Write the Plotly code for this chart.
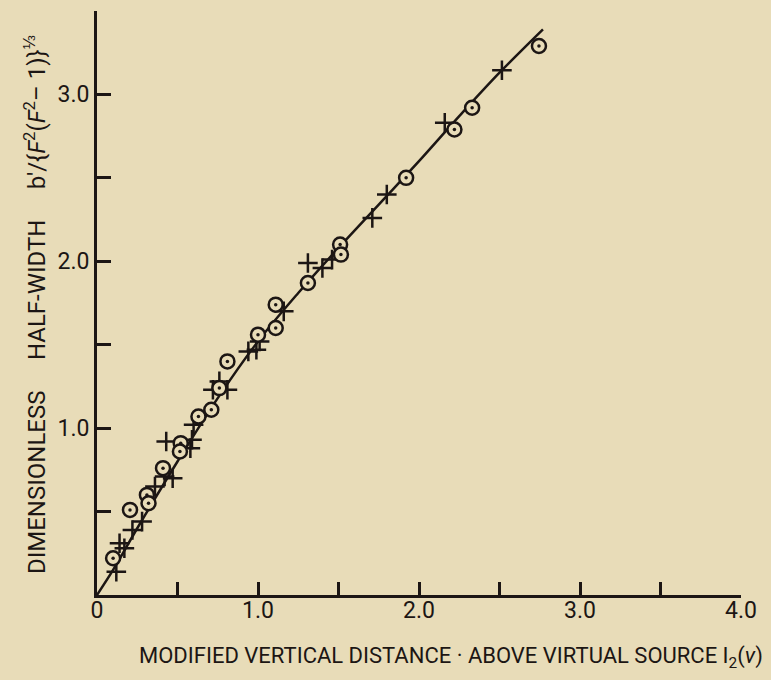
import plotly.graph_objects as go

# Fitted curve
curve_x = [0.0, 0.1, 0.25, 0.5, 0.75, 1.0, 1.25, 1.5, 1.75, 2.0, 2.25, 2.5, 2.77]
curve_y = [0.0, 0.15, 0.40, 0.80, 1.18, 1.52, 1.81, 2.08, 2.34, 2.60, 2.87, 3.13, 3.39]

# Circle-dot data points
circ_x = [0.10, 0.205, 0.31, 0.32, 0.41, 0.52, 0.515, 0.63, 0.71, 0.76, 0.81, 1.00, 1.11, 1.11, 1.31, 1.51, 1.515, 1.92, 2.22, 2.33, 2.745]
circ_y = [0.22, 0.51, 0.60, 0.55, 0.76, 0.91, 0.86, 1.07, 1.11, 1.24, 1.40, 1.56, 1.60, 1.74, 1.87, 2.10, 2.04, 2.50, 2.79, 2.92, 3.29]

# Cross data points
cross_x = [0.12, 0.14, 0.17, 0.22, 0.28, 0.36, 0.42, 0.47, 0.43, 0.58, 0.59, 0.60, 0.72, 0.76, 0.81, 0.94, 0.99, 1.01, 1.16, 1.31, 1.40, 1.46, 1.71, 1.80, 2.16, 2.515]
cross_y = [0.14, 0.31, 0.28, 0.39, 0.44, 0.65, 0.71, 0.70, 0.92, 0.88, 0.93, 1.02, 1.23, 1.28, 1.23, 1.46, 1.47, 1.52, 1.70, 1.99, 1.96, 2.01, 2.26, 2.40, 2.83, 3.145]

x_tickvals = [0, 0.5, 1.0, 1.5, 2.0, 2.5, 3.0, 3.5, 4.0]
x_ticktext = ["0", "", "1.0", "", "2.0", "", "3.0", "", "4.0"]
y_tickvals = [0.5, 1.0, 1.5, 2.0, 2.5, 3.0, 3.5]
y_ticktext = ["", "1.0", "", "2.0", "", "3.0", ""]

BG = "#e8dcb8"
INK = "#1c1614"
FONT = "Roboto, sans-serif"

fig = go.Figure()
fig.add_trace(go.Scatter(x=curve_x, y=curve_y, mode="lines",
                         line=dict(color=INK, width=2.5, shape="spline"),
                         hoverinfo="skip", showlegend=False))
fig.add_trace(go.Scatter(x=cross_x, y=cross_y, mode="markers",
                         marker=dict(symbol="cross-thin-open", size=14, color=INK,
                                     line=dict(color=INK, width=2.5)),
                         showlegend=False))
fig.add_trace(go.Scatter(x=circ_x, y=circ_y, mode="markers",
                         marker=dict(symbol="circle", size=14, color=BG,
                                     line=dict(color=INK, width=2.5)),
                         showlegend=False))
fig.add_trace(go.Scatter(x=circ_x, y=circ_y, mode="markers",
                         marker=dict(symbol="circle", size=3.5, color=INK,
                                     line=dict(width=0)),
                         showlegend=False))

fig.update_layout(
    width=771, height=680,
    margin=dict(l=97, r=30, t=11, b=85),
    paper_bgcolor=BG, plot_bgcolor=BG,
    font=dict(family=FONT, color=INK, size=23),
    xaxis=dict(range=[0, 4.0], showgrid=False, zeroline=False,
               showline=True, linewidth=3, linecolor=INK,
               ticks="inside", ticklen=13, tickwidth=2.5, tickcolor=INK,
               tickvals=x_tickvals, ticktext=x_ticktext,
               tickfont=dict(size=23, family=FONT, color=INK),
               ticklabelstandoff=-8),
    yaxis=dict(range=[0, 3.5], showgrid=False, zeroline=False,
               showline=True, linewidth=3, linecolor=INK,
               ticks="inside", ticklen=14, tickwidth=2.5, tickcolor=INK,
               tickvals=y_tickvals, ticktext=y_ticktext,
               tickfont=dict(size=23, family=FONT, color=INK),
               ticklabelstandoff=0),
)

fig.add_annotation(
    xref="paper", yref="paper",
    x=(765 - 97) / 644, y=-(657 - 595) / 584,
    xanchor="right", yanchor="middle", showarrow=False,
    text="MODIFIED VERTICAL DISTANCE · ABOVE VIRTUAL SOURCE I<sub>2</sub>(<i>ν</i>)",
    font=dict(size=22, family=FONT, color=INK),
)
fig.add_annotation(
    xref="paper", yref="paper",
    x=-(97 - 35) / 644, y=(595 - 305) / 584,
    xanchor="center", yanchor="middle", showarrow=False, textangle=-90,
    text="DIMENSIONLESS\u2003 HALF-WIDTH\u2003 b′/{<i>F</i><sup>2</sup>(<i>F</i><sup>2</sup>– 1)}<sup>⅓</sup>",
    font=dict(size=24, family=FONT, color=INK),
)

fig.write_html("out.html", config={"displayModeBar": False},
               post_script="document.body.style.margin='0';")
